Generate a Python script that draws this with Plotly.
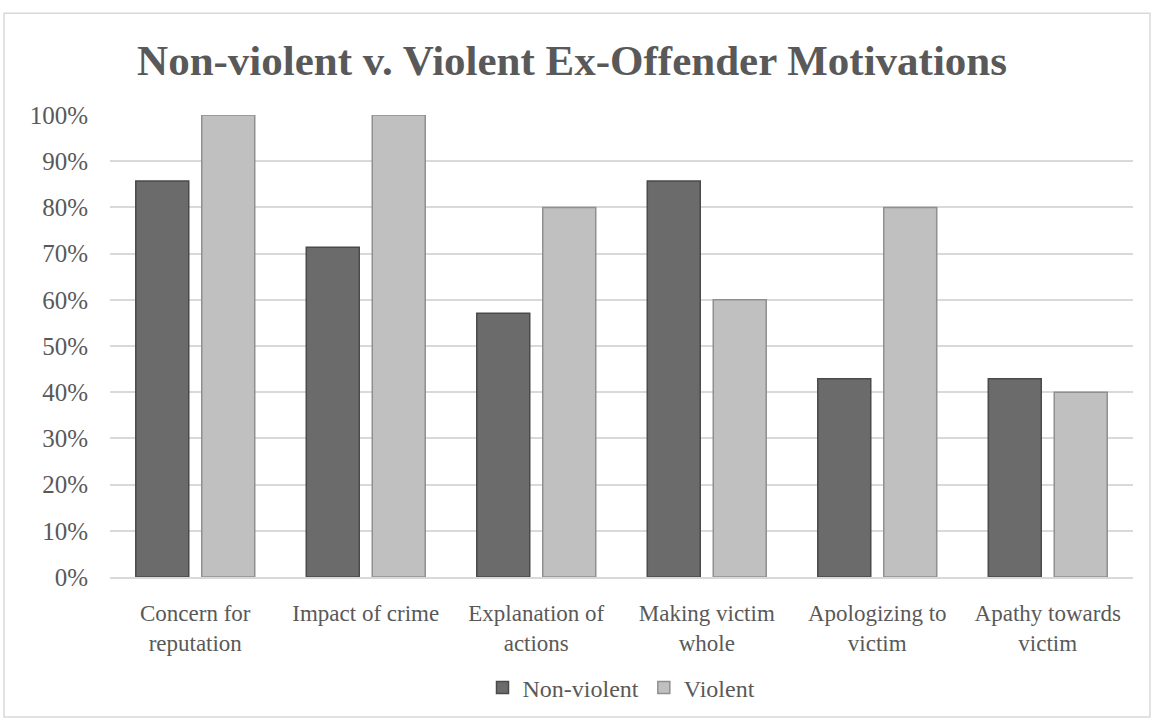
import plotly.graph_objects as go

categories = ["Concern for<br>reputation", "Impact of crime", "Explanation of<br>actions",
              "Making victim<br>whole", "Apologizing to<br>victim", "Apathy towards<br>victim"]
non_violent = [0.857, 0.714, 0.571, 0.857, 0.429, 0.429]
violent = [1.0, 1.0, 0.8, 0.6, 0.8, 0.4]
y_ticks = [0, 0.1, 0.2, 0.3, 0.4, 0.5, 0.6, 0.7, 0.8, 0.9, 1.0]

font_family = "Liberation Serif, DejaVu Serif, serif"
text_color = "#595959"

fig = go.Figure()
fig.add_trace(go.Bar(
    x=categories, y=non_violent, name="Non-violent",
    marker=dict(color="#6b6b6b", line=dict(color="#4a4a4a", width=1.5)),
))
fig.add_trace(go.Bar(
    x=categories, y=violent, name="Violent",
    marker=dict(color="#c0c0c0", line=dict(color="#8f8f8f", width=1.5)),
))

fig.update_layout(
    width=1151, height=723,
    paper_bgcolor="white", plot_bgcolor="white",
    margin=dict(l=110, r=18, t=115, b=140),
    barmode="group", bargap=0.226, bargroupgap=0.197,
    title=dict(text="<b>Non-violent v. Violent Ex-Offender Motivations</b>",
               x=0.497, xref="container", xanchor="center",
               y=0.917, yref="container", yanchor="middle",
               font=dict(family=font_family, size=43, color=text_color)),
    font=dict(family=font_family, size=24, color=text_color),
    legend=dict(orientation="h", x=0.5, xanchor="center", y=-0.24, yanchor="middle",
                font=dict(size=24, color=text_color), itemwidth=30),
    showlegend=True,
)
fig.update_yaxes(range=[0, 1.0], tickvals=y_ticks, tickformat=".0%",
                 showgrid=True, gridcolor="#d9d9d9", gridwidth=1.5,
                 zeroline=False, showline=False, ticks="", ticklen=0,
                 ticklabelstandoff=21, automargin=False,
                 tickfont=dict(size=25, color=text_color))
fig.update_xaxes(showline=True, linecolor="#d9d9d9", linewidth=1.5,
                 ticklabelstandoff=15, automargin=False,
                 tickfont=dict(size=23, color=text_color), ticks="")

# outer chart border
fig.add_shape(type="rect", xref="paper", yref="paper",
              x0=-0.1036, x1=1.0166, y0=-0.303, y1=1.220,
              line=dict(color="#d9d9d9", width=1.5), fillcolor="rgba(0,0,0,0)", layer="below")

fig.write_html("out.html")
